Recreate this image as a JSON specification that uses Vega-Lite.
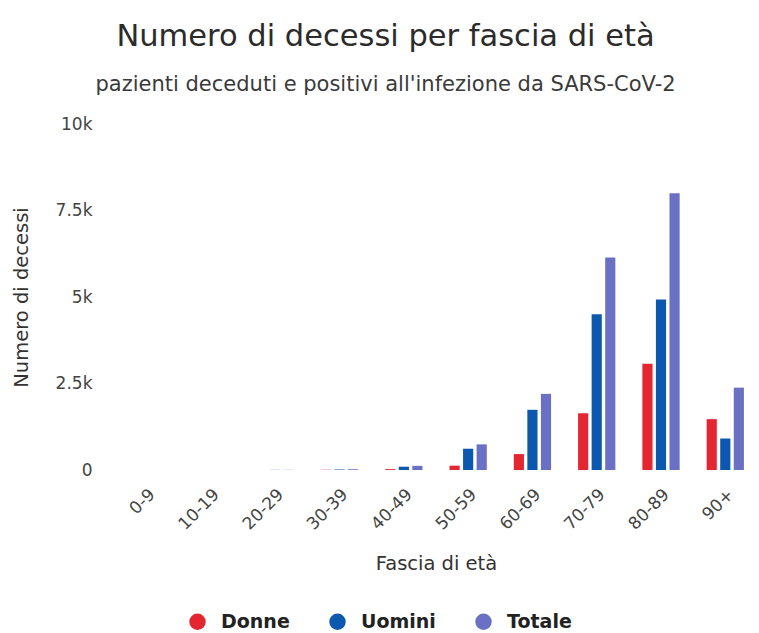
{
  "$schema": "https://vega.github.io/schema/vega-lite/v6.json",
  "autosize": {"type": "none"},
  "width": 648,
  "height": 346,
  "padding": {"left": 112, "top": 124, "right": 0, "bottom": 163},
  "background": "white",
  "title": {
    "text": "Numero di decessi per fascia di età",
    "subtitle": "pazienti deceduti e positivi all'infezione da SARS-CoV-2",
    "anchor": "middle",
    "frame": "bounds",
    "font": "DejaVu Sans",
    "fontSize": 30.5,
    "fontWeight": "normal",
    "color": "#2b2b2b",
    "subtitleFont": "DejaVu Sans",
    "subtitleFontSize": 21,
    "subtitleColor": "#3a3a3a",
    "subtitlePadding": 22,
    "offset": 20
  },
  "data": {
    "values": [
      {"fascia": "0-9", "serie": "Donne", "decessi": 0},
      {"fascia": "0-9", "serie": "Uomini", "decessi": 0},
      {"fascia": "0-9", "serie": "Totale", "decessi": 0},
      {"fascia": "10-19", "serie": "Donne", "decessi": 0},
      {"fascia": "10-19", "serie": "Uomini", "decessi": 0},
      {"fascia": "10-19", "serie": "Totale", "decessi": 0},
      {"fascia": "20-29", "serie": "Donne", "decessi": 0},
      {"fascia": "20-29", "serie": "Uomini", "decessi": 4},
      {"fascia": "20-29", "serie": "Totale", "decessi": 4},
      {"fascia": "30-39", "serie": "Donne", "decessi": 5},
      {"fascia": "30-39", "serie": "Uomini", "decessi": 18},
      {"fascia": "30-39", "serie": "Totale", "decessi": 23},
      {"fascia": "40-49", "serie": "Donne", "decessi": 25},
      {"fascia": "40-49", "serie": "Uomini", "decessi": 95},
      {"fascia": "40-49", "serie": "Totale", "decessi": 120},
      {"fascia": "50-59", "serie": "Donne", "decessi": 125},
      {"fascia": "50-59", "serie": "Uomini", "decessi": 615},
      {"fascia": "50-59", "serie": "Totale", "decessi": 740},
      {"fascia": "60-69", "serie": "Donne", "decessi": 460},
      {"fascia": "60-69", "serie": "Uomini", "decessi": 1740},
      {"fascia": "60-69", "serie": "Totale", "decessi": 2200},
      {"fascia": "70-79", "serie": "Donne", "decessi": 1640},
      {"fascia": "70-79", "serie": "Uomini", "decessi": 4500},
      {"fascia": "70-79", "serie": "Totale", "decessi": 6140},
      {"fascia": "80-89", "serie": "Donne", "decessi": 3070},
      {"fascia": "80-89", "serie": "Uomini", "decessi": 4930},
      {"fascia": "80-89", "serie": "Totale", "decessi": 8000},
      {"fascia": "90+", "serie": "Donne", "decessi": 1470},
      {"fascia": "90+", "serie": "Uomini", "decessi": 910},
      {"fascia": "90+", "serie": "Totale", "decessi": 2380}
    ]
  },
  "mark": {"type": "bar", "cornerRadius": 0},
  "encoding": {
    "x": {
      "field": "fascia",
      "type": "nominal",
      "sort": ["0-9", "10-19", "20-29", "30-39", "40-49", "50-59", "60-69", "70-79", "80-89", "90+"],
      "scale": {"paddingInner": 0.42, "paddingOuter": 0.25},
      "axis": {
        "title": "Fascia di età",
        "labelAngle": -45,
        "labelFont": "DejaVu Sans",
        "labelFontSize": 17,
        "labelColor": "#444444",
        "labelPadding": 16,
        "ticks": false,
        "domain": false,
        "titleFont": "DejaVu Sans",
        "titleFontSize": 19.5,
        "titleFontWeight": "normal",
        "titleColor": "#333333",
        "titlePadding": 22
      }
    },
    "xOffset": {
      "field": "serie",
      "type": "nominal",
      "sort": ["Donne", "Uomini", "Totale"],
      "scale": {"paddingInner": 0.25}
    },
    "y": {
      "field": "decessi",
      "type": "quantitative",
      "scale": {"domain": [0, 10000]},
      "axis": {
        "title": "Numero di decessi",
        "values": [0, 2500, 5000, 7500, 10000],
        "labelExpr": "datum.value == 0 ? '0' : format(datum.value / 1000, '~g') + 'k'",
        "labelFont": "DejaVu Sans",
        "labelFontSize": 17,
        "labelColor": "#444444",
        "labelPadding": 20,
        "ticks": false,
        "domain": false,
        "grid": false,
        "titleFont": "DejaVu Sans",
        "titleFontSize": 19.5,
        "titleFontWeight": "normal",
        "titleColor": "#333333",
        "titlePadding": 24
      }
    },
    "color": {
      "field": "serie",
      "type": "nominal",
      "sort": ["Donne", "Uomini", "Totale"],
      "scale": {"domain": ["Donne", "Uomini", "Totale"], "range": ["#e3262f", "#0c58ae", "#6a70c4"]},
      "legend": {
        "title": null,
        "orient": "none",
        "direction": "horizontal",
        "legendX": 76,
        "legendY": 488,
        "symbolType": "circle",
        "symbolSize": 270,
        "symbolStrokeWidth": 0,
        "symbolOpacity": 1,
        "labelFont": "DejaVu Sans",
        "labelFontSize": 19,
        "labelFontWeight": "bold",
        "labelColor": "#222222",
        "columnPadding": 38,
        "labelOffset": 14
      }
    }
  },
  "config": {
    "view": {"stroke": null}
  }
}
